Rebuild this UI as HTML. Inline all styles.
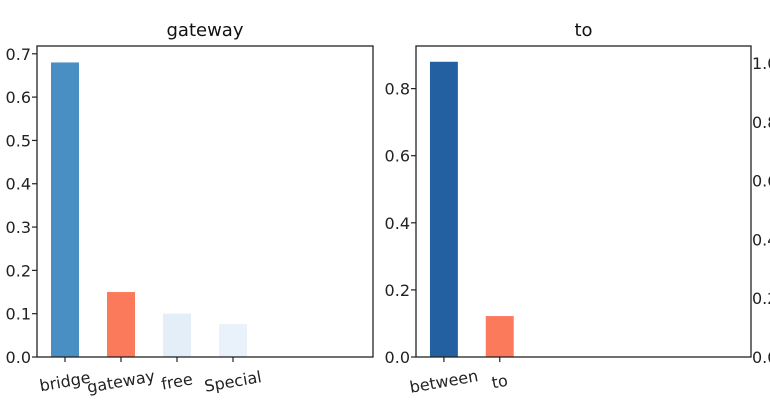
<!DOCTYPE html>
<html><head><meta charset="utf-8"><style>
html,body{margin:0;padding:0;background:#fff;}
svg{display:block;font-family:"DejaVu Sans","Liberation Sans",sans-serif;}
</style></head><body>
<svg id="chart" width="770" height="414" viewBox="0 0 770 414"></svg>
<script>
const leftCats = ["bridge","gateway","free","Special"];
const leftVals = [0.68,0.15,0.1,0.076];
const leftColors = ["#4a8fc4","#fc7a5c","#e3eef9","#e9f1fa"];
const leftTicks = [0,0.1,0.2,0.3,0.4,0.5,0.6,0.7];
const rightCats = ["between","to"];
const rightVals = [0.88,0.122];
const rightColors = ["#2260a2","#fc7a5c"];
const rightTicks = [0,0.2,0.4,0.6,0.8];
const thirdTicks = [0,0.2,0.4,0.6,0.8,1.0];

const NS="http://www.w3.org/2000/svg";
const svg=document.getElementById('chart');
function mk(tag,attrs,parent){const e=document.createElementNS(NS,tag);for(const k in attrs)e.setAttribute(k,attrs[k]);(parent||svg).appendChild(e);return e;}

function panel(name,x0,x1,y0,y1,ymax,cats,vals,colors,ticks,title){
  const g=mk('g',{});
  
  
  const xs=i=>x0+(i+0.5)*(x1-x0)/6;
  const ys=v=>y1-v/ymax*(y1-y0);
  const bw=0.5*(x1-x0)/6;
  cats.forEach((c,i)=>{
    const r=mk('rect',{x:xs(i)-bw/2,y:ys(vals[i]),width:bw,height:ys(0)-ys(vals[i]),fill:colors[i]},g);
    
    
    mk('line',{x1:xs(i),x2:xs(i),y1:y1,y2:y1+5,stroke:'#222','stroke-width':1.2},g);
    const t=mk('text',{x:xs(i),y:y1+30,'font-size':16,'text-anchor':'middle',fill:'#222',transform:`rotate(-10 ${xs(i)} ${y1+25})`},g);
    t.textContent=c;
    
    
  });
  ticks.forEach(v=>{
    mk('line',{x1:x0-5,x2:x0,y1:ys(v),y2:ys(v),stroke:'#222','stroke-width':1.2},g);
    const t=mk('text',{x:x0-6,y:ys(v)+6,'font-size':16,'text-anchor':'end',fill:'#222'},g);
    t.textContent=v.toFixed(1);
    
    
  });
  const f=mk('rect',{x:x0,y:y0,width:x1-x0,height:y1-y0,fill:'none',stroke:'#222','stroke-width':1.3},g);
  
  
  const tt=mk('text',{x:(x0+x1)/2,y:y0-10,'font-size':18,'text-anchor':'middle',fill:'#111'},g);
  tt.textContent=title;
  
  
}
panel('gateway',37,373,46,357,0.718,leftCats,leftVals,leftColors,leftTicks,'gateway');
panel('to',416,751,46,357,0.927,rightCats,rightVals,rightColors,rightTicks,'to');
const g3=mk('g',{});


thirdTicks.forEach(v=>{
  const y=357-v/1.0*(357-63);
  const t=mk('text',{x:752,y:y+6,'font-size':16,fill:'#222'},g3);
  t.textContent=v.toFixed(1);
  
  
});
</script>
</body></html>
